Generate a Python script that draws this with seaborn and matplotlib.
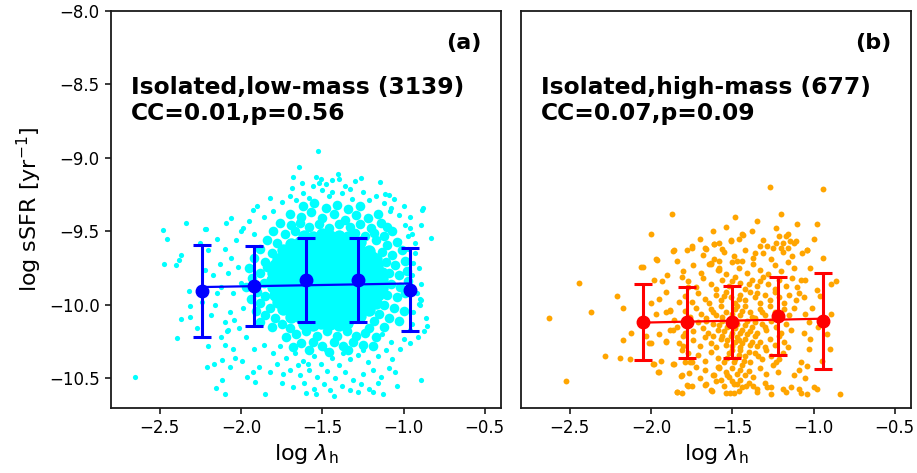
import matplotlib
matplotlib.use("Agg")
import matplotlib.pyplot as plt
import seaborn as sns

# ---------------- data ----------------
# binned means and scatter (error bars)
bins_a_x = [-2.24, -1.92, -1.60, -1.28, -0.96]
bins_a_y = [-9.905, -9.873, -9.830, -9.830, -9.896]
bins_a_err = [0.311, 0.270, 0.284, 0.284, 0.280]

bins_b_x = [-2.05, -1.78, -1.50, -1.22, -0.94]
bins_b_y = [-10.118, -10.120, -10.118, -10.075, -10.107]
bins_b_err = [0.257, 0.242, 0.243, 0.263, 0.327]

# panel (a): dense core of the cyan cloud
core_a = [
    (-1.61,-9.53),(-1.56,-9.54),(-1.50,-9.52),(-1.45,-9.535),(-1.395,-9.53),(-1.34,-9.54),
    (-1.69,-9.585),(-1.64,-9.575),(-1.585,-9.59),(-1.53,-9.58),(-1.48,-9.575),(-1.43,-9.585),(-1.375,-9.58),(-1.32,-9.59),(-1.27,-9.575),
    (-1.74,-9.63),(-1.69,-9.635),(-1.64,-9.625),(-1.585,-9.64),(-1.535,-9.63),(-1.48,-9.625),(-1.43,-9.635),(-1.38,-9.63),(-1.325,-9.64),(-1.27,-9.625),(-1.215,-9.635),
    (-1.77,-9.685),(-1.72,-9.675),(-1.665,-9.68),(-1.615,-9.69),(-1.56,-9.68),(-1.51,-9.675),(-1.46,-9.685),(-1.405,-9.68),(-1.355,-9.675),(-1.30,-9.685),(-1.25,-9.68),(-1.195,-9.675),(-1.17,-9.69),
    (-1.79,-9.73),(-1.745,-9.735),(-1.69,-9.725),(-1.64,-9.735),(-1.585,-9.73),(-1.535,-9.725),(-1.48,-9.735),(-1.43,-9.73),(-1.375,-9.725),(-1.325,-9.735),(-1.27,-9.73),(-1.22,-9.725),(-1.165,-9.735),
    (-1.805,-9.78),(-1.755,-9.785),(-1.70,-9.775),(-1.65,-9.78),(-1.595,-9.785),(-1.545,-9.775),(-1.49,-9.78),(-1.44,-9.785),(-1.385,-9.775),(-1.335,-9.78),(-1.28,-9.785),(-1.23,-9.775),(-1.175,-9.78),(-1.135,-9.785),
    (-1.81,-9.83),(-1.76,-9.825),(-1.705,-9.835),(-1.655,-9.83),(-1.60,-9.825),(-1.55,-9.835),(-1.495,-9.83),(-1.445,-9.825),(-1.39,-9.835),(-1.34,-9.83),(-1.285,-9.825),(-1.235,-9.835),(-1.18,-9.83),(-1.13,-9.825),
    (-1.805,-9.88),(-1.75,-9.885),(-1.70,-9.875),(-1.645,-9.88),(-1.595,-9.885),(-1.54,-9.875),(-1.49,-9.88),(-1.435,-9.885),(-1.385,-9.875),(-1.33,-9.88),(-1.28,-9.885),(-1.225,-9.875),(-1.175,-9.88),(-1.135,-9.885),
    (-1.79,-9.93),(-1.74,-9.935),(-1.685,-9.925),(-1.635,-9.93),(-1.58,-9.935),(-1.53,-9.925),(-1.475,-9.93),(-1.425,-9.935),(-1.37,-9.925),(-1.32,-9.93),(-1.265,-9.935),(-1.215,-9.925),(-1.16,-9.93),
    (-1.77,-9.98),(-1.715,-9.985),(-1.665,-9.975),(-1.61,-9.98),(-1.56,-9.985),(-1.505,-9.975),(-1.455,-9.98),(-1.40,-9.985),(-1.35,-9.975),(-1.295,-9.98),(-1.245,-9.985),(-1.19,-9.975),(-1.17,-9.99),
    (-1.74,-10.03),(-1.69,-10.035),(-1.635,-10.025),(-1.585,-10.03),(-1.53,-10.035),(-1.48,-10.025),(-1.425,-10.03),(-1.375,-10.035),(-1.32,-10.025),(-1.27,-10.03),(-1.215,-10.035),
    (-1.69,-10.08),(-1.64,-10.085),(-1.585,-10.075),(-1.535,-10.08),(-1.48,-10.085),(-1.43,-10.075),(-1.375,-10.08),(-1.325,-10.085),(-1.27,-10.075),
    (-1.61,-10.13),(-1.56,-10.135),(-1.505,-10.125),(-1.455,-10.13),(-1.40,-10.135),(-1.345,-10.125),
]

# panel (a): ring of dense points around the core
ring_a = [
    (-1.62,-9.33),(-1.55,-9.31),(-1.48,-9.34),(-1.41,-9.32),(-1.34,-9.35),(-1.27,-9.33),(-1.70,-9.38),(-1.63,-9.40),
    (-1.57,-9.37),(-1.50,-9.41),(-1.43,-9.38),(-1.36,-9.42),(-1.29,-9.39),(-1.22,-9.41),(-1.16,-9.38),(-1.76,-9.44),
    (-1.69,-9.46),(-1.64,-9.44),(-1.58,-9.47),(-1.52,-9.45),(-1.46,-9.48),(-1.40,-9.45),(-1.33,-9.47),(-1.27,-9.45),
    (-1.20,-9.48),(-1.14,-9.44),(-1.10,-9.47),(-1.80,-9.50),(-1.73,-9.52),(-1.67,-9.50),(-1.30,-9.51),(-1.24,-9.53),
    (-1.18,-9.51),(-1.12,-9.53),(-1.07,-9.50),
    (-1.84,-9.56),(-1.78,-9.58),(-1.88,-9.62),(-1.81,-9.65),(-1.92,-9.68),(-1.85,-9.71),(-1.95,-9.75),(-1.88,-9.78),
    (-1.84,-9.74),(-1.93,-9.82),(-1.86,-9.85),(-1.97,-9.88),(-1.90,-9.91),(-1.85,-9.94),(-1.94,-9.96),(-1.88,-9.99),
    (-1.82,-10.02),(-1.91,-10.04),(-1.85,-10.07),(-1.79,-10.09),(-1.88,-10.12),(-1.81,-10.15),(-1.75,-10.13),(-1.70,-10.16),
    (-1.17,-9.56),(-1.10,-9.59),(-1.04,-9.57),(-1.13,-9.64),(-1.07,-9.66),(-1.01,-9.63),(-1.11,-9.71),(-1.05,-9.73),
    (-0.99,-9.70),(-1.09,-9.78),(-1.03,-9.80),(-0.98,-9.77),(-1.08,-9.86),(-1.02,-9.88),(-0.97,-9.84),(-1.10,-9.93),
    (-1.04,-9.95),(-0.99,-9.92),(-1.12,-10.00),(-1.06,-10.02),(-1.00,-10.04),(-1.15,-10.06),(-1.09,-10.09),(-1.03,-10.11),
    (-1.18,-10.11),(-1.12,-10.15),(-1.21,-10.16),
    (-1.66,-10.20),(-1.60,-10.18),(-1.53,-10.21),(-1.47,-10.18),(-1.41,-10.21),(-1.35,-10.18),(-1.29,-10.21),(-1.24,-10.19),
    (-1.17,-10.22),(-1.63,-10.26),(-1.56,-10.25),(-1.50,-10.28),(-1.43,-10.25),(-1.37,-10.28),(-1.31,-10.25),(-1.25,-10.27),
    (-1.19,-10.28),(-1.58,-10.31),(-1.46,-10.32),(-1.34,-10.31),(-1.72,-10.22),(-1.68,-10.29),
]

# panel (a): sparse outskirts
outer_a = [
    (-2.653,-10.49),(-2.479,-9.49),(-2.458,-9.553),(-2.339,-9.44),(-2.473,-9.72),(-2.40,-9.73),(-2.382,-9.694),(-2.37,-9.66),
    (-2.218,-9.485),(-2.32,-9.905),(-2.313,-10.005),(-2.314,-10.08),(-2.395,-10.227),(-2.368,-10.093),(-2.208,-10.42),(-2.168,-10.40),
    (-2.151,-10.567),(-2.114,-10.508),(-2.10,-10.61),(-2.069,-10.42),(-2.034,-10.36),(-1.995,-10.385),(-1.966,-10.49),(-1.926,-10.454),
    (-1.916,-10.524),(-1.854,-10.608),(-2.114,-10.374),(-2.12,-10.22),(-2.10,-10.27),(-2.089,-10.175),(-2.08,-10.17),(-2.069,-10.05),
    (-2.185,-10.068),(-2.15,-9.92),
    (-1.598,-10.60),(-1.536,-10.61),(-1.43,-10.617),(-1.128,-10.605),(-1.19,-10.59),(-1.28,-10.59),(-0.892,-10.51),(-0.861,-10.09),
    (-0.855,-10.143),(-0.871,-10.175),(-0.892,-9.966),(-0.892,-9.857),(-0.90,-10.0),
    (-0.831,-9.542),(-0.886,-9.354),(-0.88,-9.34),(-0.892,-9.458),(-0.939,-9.717),(-0.906,-9.746),(-0.898,-9.957),(-0.906,-9.993),
    (-0.95,-10.13),(-0.963,-9.478),(-0.945,-9.52),(-0.97,-9.53),(-1.025,-9.569),(-1.029,-9.388),(-1.076,-9.342),(-1.085,-9.36),
    (-1.143,-9.161),(-1.113,-9.245),(-1.09,-9.25),
    (-1.524,-8.95),(-1.644,-9.063),(-1.68,-9.127),(-1.627,-9.168),(-1.536,-9.131),(-1.506,-9.145),(-1.52,-9.17),(-1.441,-9.15),
    (-1.404,-9.111),(-1.40,-9.145),(-1.26,-9.134),(-1.33,-9.21),(-1.44,-9.23),(-1.56,-9.19),(-1.684,-9.206),(-1.823,-9.274),
    (-1.926,-9.354),(-1.90,-9.33),(-2.059,-9.41),(-2.094,-9.444),(-2.223,-9.485),(-1.987,-9.478),
    (-1.75,-9.30),(-1.70,-9.26),(-1.62,-9.24),(-1.58,-9.27),(-1.50,-9.22),(-1.46,-9.26),(-1.38,-9.24),(-1.32,-9.28),
    (-1.25,-9.23),(-1.21,-9.29),(-1.17,-9.26),(-1.12,-9.31),(-1.06,-9.28),(-1.00,-9.33),(-1.36,-9.19),(-1.30,-9.16),
    (-1.48,-9.18),(-1.66,-9.29),(-1.80,-9.36),(-1.86,-9.40),(-1.95,-9.43),(-2.00,-9.50),(-1.92,-9.52),(-2.03,-9.56),
    (-0.96,-9.40),(-0.93,-9.58),(-0.99,-9.46),
    (-2.25,-9.58),(-2.20,-9.63),(-2.15,-9.55),(-2.10,-9.62),(-2.06,-9.68),(-2.13,-9.72),(-2.22,-9.76),(-2.17,-9.80),
    (-2.08,-9.78),(-2.02,-9.74),(-2.00,-9.85),(-2.12,-9.88),(-2.05,-9.92),(-2.24,-9.98),(-2.16,-10.00),(-2.04,-10.10),
    (-1.99,-10.02),(-2.10,-10.12),(-2.27,-10.16),(-2.20,-10.28),(-2.01,-10.16),(-1.97,-10.22),(-2.05,-10.30),
    (-1.92,-10.30),(-1.86,-10.27),(-1.80,-10.33),(-1.76,-10.28),(-1.72,-10.36),(-1.67,-10.33),(-1.62,-10.38),(-1.55,-10.35),
    (-1.51,-10.40),(-1.44,-10.36),(-1.40,-10.41),(-1.33,-10.37),(-1.28,-10.34),(-1.22,-10.39),(-1.16,-10.35),(-1.11,-10.31),
    (-1.07,-10.37),(-1.02,-10.30),(-1.89,-10.42),(-1.82,-10.46),(-1.78,-10.40),(-1.70,-10.44),(-1.64,-10.48),(-1.58,-10.44),
    (-1.53,-10.49),(-1.47,-10.45),(-1.42,-10.50),(-1.36,-10.46),(-1.31,-10.51),(-1.25,-10.47),(-1.19,-10.44),(-1.14,-10.49),
    (-1.09,-10.43),(-1.05,-10.46),(-1.75,-10.53),(-1.68,-10.56),(-1.61,-10.53),(-1.55,-10.57),(-1.49,-10.54),(-1.45,-10.58),
    (-1.38,-10.55),(-1.33,-10.58),(-1.26,-10.54),(-1.21,-10.57),(-1.16,-10.53),(-1.00,-10.23),(-0.96,-10.26),(-1.08,-10.25),
    (-1.13,-10.20),(-1.59,-10.40),(-1.48,-10.31),(-1.37,-10.33),(-1.25,-10.31),(-1.65,-10.41),(-1.74,-10.47),(-1.04,-10.55),
    (-0.93,-9.65),(-0.95,-9.80),(-0.92,-9.92),(-0.94,-10.05),(-0.96,-10.17),(-0.91,-10.22),(-0.97,-9.62),
]

# panel (b): orange cloud
pts_b = [
    (-2.63,-10.09),(-2.52,-10.52),(-2.44,-9.85),(-2.37,-10.05),(-2.21,-9.94),(-2.17,-10.02),(-2.28,-10.35),(-2.19,-10.36),
    (-2.12,-10.19),(-2.17,-10.24),(-2.13,-10.37),(-2.06,-9.74),(-2.00,-9.52),(-1.87,-9.38),(-1.97,-9.69),(-1.98,-9.83),
    (-1.93,-9.84),(-1.91,-9.91),(-1.95,-9.96),(-2.00,-9.99),(-1.97,-10.06),(-2.03,-10.21),(-2.01,-10.26),(-1.95,-10.20),
    (-1.91,-10.25),(-1.88,-10.17),(-1.84,-10.15),(-1.94,-10.38),(-1.98,-10.40),(-1.95,-10.46),(-1.86,-10.40),(-1.81,-10.48),
    (-1.84,-10.59),(-1.81,-10.60),(-1.77,-10.55),(-1.745,-10.55),(-1.86,-9.63),(-1.78,-9.63),(-1.75,-9.61),(-1.80,-9.77),
    (-1.81,-9.81),(-1.91,-10.05),(-1.88,-10.04),(-1.80,-10.21),(-1.80,-10.28),(-1.81,-10.31),(-1.76,-10.39),(-1.75,-10.39),
    (-1.66,-9.62),(-1.61,-9.585),(-1.565,-9.62),(-1.63,-9.72),(-1.58,-9.70),(-1.58,-9.76),(-1.66,-10.54),(-1.63,-10.58),
    (-1.61,-10.48),(-1.59,-10.42),
    (-1.27,-9.20),(-0.94,-9.21),(-0.98,-9.45),(-0.94,-9.68),(-0.89,-9.86),(-0.86,-9.835),(-0.96,-9.94),(-0.89,-10.06),
    (-0.90,-10.30),(-0.84,-10.61),(-0.98,-10.57),(-1.00,-10.56),(-1.05,-10.50),(-1.08,-10.60),(-1.09,-10.57),(-1.04,-10.415),
    (-1.02,-10.23),(-1.06,-10.19),(-1.03,-10.12),(-1.04,-9.63),(-1.07,-9.65),(-1.08,-9.83),(-1.05,-9.83),(-1.105,-9.565),
    (-1.17,-9.53),(-1.44,-9.52),(-1.51,-9.56),(-1.19,-9.58),(-1.20,-9.61),(-1.25,-9.61),
    (-1.866,-9.633),(-1.749,-9.603),(-1.667,-9.614),(-1.612,-9.587),(-1.507,-9.563),(-1.435,-9.524),(-1.21,-9.53),(-1.23,-9.58),
    (-1.288,-9.603),(-1.16,-9.61),(-1.145,-9.563),(-1.042,-9.626),(-1.632,-9.716),(-1.58,-9.75),(-1.472,-9.705),(-1.36,-9.65),
    (-1.964,-9.694),(-2.05,-9.74),(-1.885,-10.035),(-1.862,-10.17),(-1.907,-10.243),(-2.0,-10.26),(-1.985,-10.401),(-1.954,-10.46),
    (-1.862,-10.401),(-1.815,-10.481),(-1.841,-10.594),(-1.78,-10.544),(-1.764,-10.465),(-1.79,-10.39),(-1.626,-10.583),(-1.667,-10.544),
    (-1.581,-10.431),(-1.535,-10.48),(-1.538,-10.597),(-1.515,-10.597),(-1.49,-10.597),(-1.46,-10.583),(-1.415,-10.555),(-1.49,-10.54),
    (-1.455,-10.51),(-1.37,-10.55),(-1.35,-10.59),(-1.288,-10.556),(-1.264,-10.606),(-1.186,-10.574),(-1.17,-10.59),(-1.14,-10.56),
    (-1.042,-10.606),(-1.12,-10.48),(-1.08,-10.39),(-1.09,-10.44),
    (-1.68,-9.66),(-1.61,-9.69),(-1.55,-9.64),(-1.49,-9.67),(-1.42,-9.63),(-1.37,-9.68),(-1.31,-9.65),(-1.26,-9.69),(-1.19,-9.64),(-1.13,-9.67),
    (-1.74,-9.73),(-1.69,-9.78),(-1.64,-9.72),(-1.59,-9.76),(-1.54,-9.79),(-1.50,-9.71),(-1.46,-9.75),(-1.41,-9.78),
    (-1.37,-9.72),(-1.33,-9.76),(-1.28,-9.79),(-1.24,-9.73),(-1.20,-9.77),(-1.16,-9.71),(-1.12,-9.75),(-1.44,-9.70),
    (-1.77,-9.84),(-1.72,-9.88),(-1.68,-9.82),(-1.63,-9.86),(-1.60,-9.89),(-1.56,-9.83),(-1.52,-9.87),(-1.48,-9.81),
    (-1.45,-9.85),(-1.42,-9.89),(-1.38,-9.83),(-1.35,-9.87),(-1.31,-9.81),(-1.28,-9.86),(-1.24,-9.89),(-1.21,-9.83),
    (-1.17,-9.87),(-1.13,-9.82),(-1.10,-9.88),(-1.40,-9.86),(-1.50,-9.84),(-1.33,-9.84),
    (-1.79,-9.94),(-1.75,-9.98),(-1.71,-9.92),(-1.67,-9.96),(-1.64,-9.99),(-1.60,-9.93),(-1.57,-9.97),(-1.54,-9.91),
    (-1.51,-9.95),(-1.48,-9.99),(-1.45,-9.93),(-1.42,-9.97),(-1.39,-9.91),(-1.36,-9.95),(-1.33,-9.99),(-1.30,-9.93),
    (-1.27,-9.97),(-1.24,-9.91),(-1.21,-9.95),(-1.18,-9.99),(-1.15,-9.93),(-1.11,-9.97),(-1.09,-9.92),(-1.46,-9.96),
    (-1.55,-9.94),(-1.35,-9.92),
    (-1.79,-10.04),(-1.76,-10.08),(-1.72,-10.02),(-1.69,-10.06),(-1.66,-10.09),(-1.63,-10.03),(-1.60,-10.07),(-1.57,-10.01),
    (-1.54,-10.05),(-1.51,-10.09),(-1.48,-10.03),(-1.45,-10.07),(-1.42,-10.01),(-1.39,-10.05),(-1.36,-10.09),(-1.33,-10.03),
    (-1.30,-10.07),(-1.27,-10.01),(-1.24,-10.05),(-1.21,-10.09),(-1.18,-10.03),(-1.15,-10.07),(-1.12,-10.02),(-1.50,-10.06),
    (-1.44,-10.04),(-1.38,-10.08),(-1.56,-10.08),(-1.62,-10.05),(-1.32,-10.05),(-1.47,-10.01),
    (-1.77,-10.14),(-1.74,-10.18),(-1.71,-10.12),(-1.68,-10.16),(-1.65,-10.19),(-1.62,-10.13),(-1.59,-10.17),(-1.56,-10.11),
    (-1.53,-10.15),(-1.50,-10.19),(-1.47,-10.13),(-1.44,-10.17),(-1.41,-10.11),(-1.38,-10.15),(-1.35,-10.19),(-1.32,-10.13),
    (-1.29,-10.17),(-1.26,-10.11),(-1.23,-10.15),(-1.20,-10.19),(-1.17,-10.13),(-1.14,-10.17),(-1.48,-10.16),(-1.42,-10.14),
    (-1.52,-10.12),(-1.45,-10.19),(-1.39,-10.18),(-1.58,-10.14),(-1.36,-10.12),(-1.55,-10.18),(-1.30,-10.15),(-1.66,-10.11),
    (-1.74,-10.24),(-1.70,-10.28),(-1.67,-10.22),(-1.63,-10.26),(-1.60,-10.29),(-1.57,-10.23),(-1.54,-10.27),(-1.51,-10.21),
    (-1.48,-10.25),(-1.45,-10.29),(-1.42,-10.23),(-1.39,-10.27),(-1.36,-10.21),(-1.33,-10.25),(-1.30,-10.29),(-1.27,-10.23),
    (-1.24,-10.27),(-1.21,-10.21),(-1.18,-10.25),(-1.16,-10.29),(-1.47,-10.22),(-1.44,-10.26),(-1.50,-10.28),(-1.41,-10.20),
    (-1.53,-10.24),(-1.46,-10.24),(-1.38,-10.25),(-1.56,-10.21),(-1.35,-10.28),(-1.62,-10.21),
    (-1.71,-10.34),(-1.67,-10.38),(-1.63,-10.32),(-1.59,-10.36),(-1.55,-10.39),(-1.52,-10.33),(-1.48,-10.37),(-1.45,-10.31),
    (-1.42,-10.35),(-1.39,-10.39),(-1.36,-10.33),(-1.32,-10.37),(-1.29,-10.31),(-1.26,-10.35),(-1.23,-10.39),(-1.19,-10.33),
    (-1.46,-10.34),(-1.43,-10.38),(-1.50,-10.31),(-1.40,-10.32),(-1.49,-10.39),(-1.53,-10.36),(-1.21,-10.37),(-1.34,-10.35),
    (-1.67,-10.44),(-1.62,-10.48),(-1.58,-10.42),(-1.54,-10.46),(-1.50,-10.43),(-1.47,-10.47),(-1.44,-10.41),(-1.40,-10.45),
    (-1.37,-10.49),(-1.33,-10.43),(-1.29,-10.47),(-1.25,-10.41),(-1.22,-10.46),(-1.45,-10.44),(-1.52,-10.49),(-1.42,-10.48),
    (-1.60,-10.52),(-1.55,-10.55),(-1.50,-10.52),(-1.44,-10.56),(-1.40,-10.53),(-1.35,-10.57),(-1.30,-10.53),(-1.26,-10.56),
    (-1.47,-10.54),(-1.57,-10.51),
    (-1.70,-9.55),(-1.62,-9.50),(-1.54,-9.47),(-1.46,-9.55),(-1.38,-9.50),(-1.31,-9.56),(-1.23,-9.48),(-1.16,-9.52),
    (-1.10,-9.45),(-1.48,-9.40),(-1.35,-9.43),(-1.20,-9.38),(-1.58,-9.58),(-1.33,-9.60),(-1.12,-9.58),
    (-1.02,-9.75),(-0.98,-9.90),(-1.01,-10.02),(-0.97,-10.15),(-1.03,-10.30),(-0.95,-10.38),(-1.00,-9.55),(-0.92,-10.20),
    (-1.06,-9.95),(-1.05,-10.06),
    (-1.84,-9.70),(-1.77,-9.88),(-1.83,-9.98),(-1.86,-10.10),(-1.79,-10.19),(-1.83,-10.26),(-1.77,-10.33),(-1.72,-10.42),
    (-1.90,-9.80),(-1.70,-10.50),
]

panel_labels = ["(a)", "(b)"]
panel_titles = ["Isolated,low-mass (3139)\nCC=0.01,p=0.56",
                "Isolated,high-mass (677)\nCC=0.07,p=0.09"]
x_ticks = [-2.5, -2.0, -1.5, -1.0, -0.5]
y_ticks = [-10.5, -10.0, -9.5, -9.0, -8.5, -8.0]

# ---------------- plot ----------------
sns.set_style("ticks")
plt.rcParams["font.family"] = ["DejaVu Sans"]
plt.rcParams["axes.edgecolor"] = "#1a1a1a"
plt.rcParams["axes.linewidth"] = 1.3
plt.rcParams["text.color"] = "black"
plt.rcParams["axes.labelcolor"] = "black"

fig, (ax1, ax2) = plt.subplots(1, 2, figsize=(9.17, 4.73), dpi=100, sharey=True)
fig.subplots_adjust(left=0.121, right=0.9935, bottom=0.138, top=0.977, wspace=0.051)


def xs(pts):
    return [p[0] for p in pts]


def ys(pts):
    return [p[1] for p in pts]


sns.scatterplot(x=xs(outer_a), y=ys(outer_a), color="cyan", s=14, linewidth=0, ax=ax1, zorder=1)
sns.scatterplot(x=xs(ring_a), y=ys(ring_a), color="cyan", s=48, linewidth=0, ax=ax1, zorder=1)
sns.scatterplot(x=xs(core_a), y=ys(core_a), color="cyan", s=80, linewidth=0, ax=ax1, zorder=1)
sns.scatterplot(x=xs(pts_b), y=ys(pts_b), color="orange", s=18, linewidth=0, ax=ax2, zorder=1)

for ax, bx, by, be, col in [(ax1, bins_a_x, bins_a_y, bins_a_err, "blue"),
                            (ax2, bins_b_x, bins_b_y, bins_b_err, "red")]:
    sns.regplot(x=bx, y=by, scatter=False, ci=None, color=col, ax=ax,
                line_kws={"lw": 1.6, "zorder": 3})
    ax.errorbar(bx, by, yerr=be, fmt="o", color=col, ms=9, elinewidth=2.2,
                capsize=6.5, capthick=2.2, zorder=4)

for i, ax in enumerate([ax1, ax2]):
    ax.set_xlim(-2.8, -0.4)
    ax.set_ylim(-10.7, -8.0)
    ax.set_xticks(x_ticks)
    ax.tick_params(axis="both", labelsize=12, length=4.5, width=1.2, colors="#1a1a1a",
                   labelcolor="black")
    ax.set_xlabel(r"log $\lambda_{\rm h}$", fontsize=16)
    ax.text(0.95, 0.945, panel_labels[i], transform=ax.transAxes, ha="right", va="top",
            fontsize=16, fontweight="bold", color="black")
    ax.text(0.052, 0.835, panel_titles[i], transform=ax.transAxes, ha="left", va="top",
            fontsize=16.8, fontweight="bold", linespacing=1.15, color="black")
    for s in ax.spines.values():
        s.set_visible(True)

ax1.set_yticks(y_ticks)
ax1.set_ylabel(r"log sSFR [yr$^{-1}$]", fontsize=16)
ax2.set_ylabel("")
ax2.tick_params(axis="y", left=False, labelleft=False)

fig.savefig("out.png", dpi=100)
